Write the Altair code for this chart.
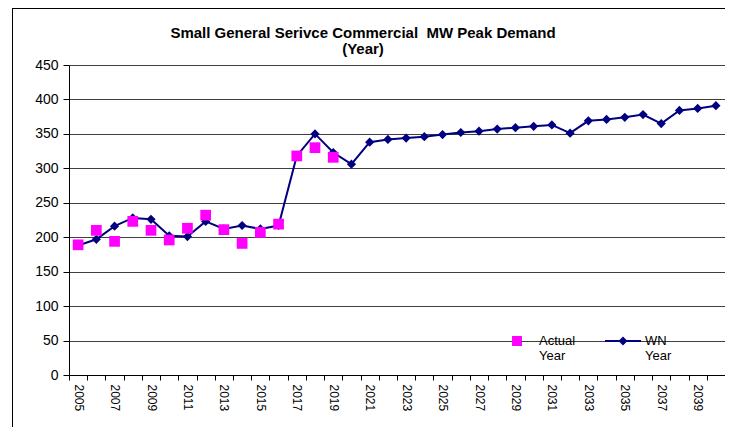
import altair as alt
import pandas as pd

# ---- data ----
years = list(range(2005, 2041))
actual_years = list(range(2005, 2020))
actual_values = [189, 210, 194, 223, 210, 196, 213, 232, 211, 191, 207, 219, 318, 330, 316]
wn_values = [188, 197, 216, 228, 226, 202, 201, 223, 212, 217, 212, 217,
             318, 350, 323, 306, 338, 342, 344, 346, 349, 352, 354, 357,
             359, 361, 363, 351, 369, 371, 374, 378, 365, 384, 387, 391]
series_names = ["Actual Year", "WN Year"]
series_colors = ["#FF00FF", "#000080"]
y_ticks = list(range(0, 451, 50))
title_lines = ["Small General Serivce Commercial \u00a0MW Peak Demand", "(Year)"]

df_actual = pd.DataFrame({"year": actual_years, "value": actual_values, "series": series_names[0]})
df_wn = pd.DataFrame({"year": years, "value": wn_values, "series": series_names[1]})
df_all = pd.concat([df_actual, df_wn], ignore_index=True)

W, H = 656, 310
FONT = "Liberation Sans"

x_enc = alt.X(
    "year:O",
    scale=alt.Scale(type="band", domain=years, paddingInner=0, paddingOuter=0),
    axis=alt.Axis(
        title=None,
        labelAngle=90,
        labelAlign="left",
        labelBaseline="middle",
        labelPadding=4,
        labelFontSize=12,
        labelOverlap=False,
        labelExpr="datum.value % 2 == 1 ? datum.label : ''",
        tickBand="extent",
        tickSize=5,
        tickColor="#000000",
        domainColor="#000000",
        grid=False,
    ),
)
y_enc = alt.Y(
    "value:Q",
    scale=alt.Scale(domain=[0, 450], nice=False),
    axis=alt.Axis(
        title=None,
        values=y_ticks,
        labelFontSize=14,
        labelPadding=5,
        tickSize=6,
        tickColor="#000000",
        domainColor="#000000",
        grid=True,
        gridColor="#404040",
        gridWidth=1,
    ),
)

base_wn = alt.Chart(df_wn)
wn_line = base_wn.mark_line(color="#000080", strokeWidth=2).encode(x=x_enc, y=y_enc)
wn_pts = base_wn.mark_point(shape="diamond", filled=True, size=85, color="#000080", opacity=1).encode(x=x_enc, y=y_enc)
act_pts = alt.Chart(df_actual).mark_point(shape="square", filled=True, size=115, color="#FF00FF", opacity=1).encode(x=x_enc, y=y_enc)

legend_def = alt.Legend(
    title=None,
    orient="none",
    legendX=429,
    legendY=257,
    direction="horizontal",
    symbolSize=1296,
    symbolStrokeWidth=2,
    symbolOpacity=1,
    labelExpr="split(datum.label, ' ')",
    labelFontSize=13,
    labelFont=FONT,
    labelColor="#000000",
    labelOffset=3,
    labelLimit=200,
    columnPadding=25,
    padding=0,
)
shape_paths = [
    "M-0.22,-0.22H0.22V0.22H-0.22Z",
    "M-1,0H1M-0.17,0L0,-0.17L0.17,0L0,0.17Z",
]
legend_layer = alt.Chart(df_all).mark_point(filled=True, opacity=0).encode(
    x=x_enc,
    y=y_enc,
    color=alt.Color("series:N", scale=alt.Scale(domain=series_names, range=series_colors), legend=legend_def),
    stroke=alt.Stroke("series:N", scale=alt.Scale(domain=series_names, range=series_colors), legend=legend_def),
    shape=alt.Shape("series:N", scale=alt.Scale(domain=series_names, range=shape_paths), legend=legend_def),
)

# outer chart-area frame (decoration)
frame_left = alt.Chart(df_wn).mark_rule(color="#000000", strokeWidth=1).encode(
    x=alt.value(-56.5), y=alt.value(-57), y2=alt.value(H + 60)
)
frame_top = alt.Chart(df_wn).mark_rule(color="#000000", strokeWidth=1).encode(
    x=alt.value(-57), x2=alt.value(W + 5), y=alt.value(-56.5)
)

chart = alt.layer(frame_left, frame_top, wn_line, wn_pts, act_pts, legend_layer).properties(
    width=W,
    height=H,
    autosize=alt.AutoSizeParams(type="none"),
    padding={"left": 61, "top": 57, "right": 0, "bottom": 52},
    title=alt.TitleParams(
        text=title_lines,
        anchor="middle",
        dx=-34,
        dy=55,
        offset=6,
        fontSize=15,
        fontWeight="bold",
        font=FONT,
        color="#000000",
        lineHeight=16,
    ),
).configure_view(
    stroke="#808080", strokeWidth=1
).configure_axis(
    labelFont=FONT, labelColor="#000000"
).configure(background="#ffffff")

chart.save("out.html", embed_options={"renderer": "svg", "actions": False})
